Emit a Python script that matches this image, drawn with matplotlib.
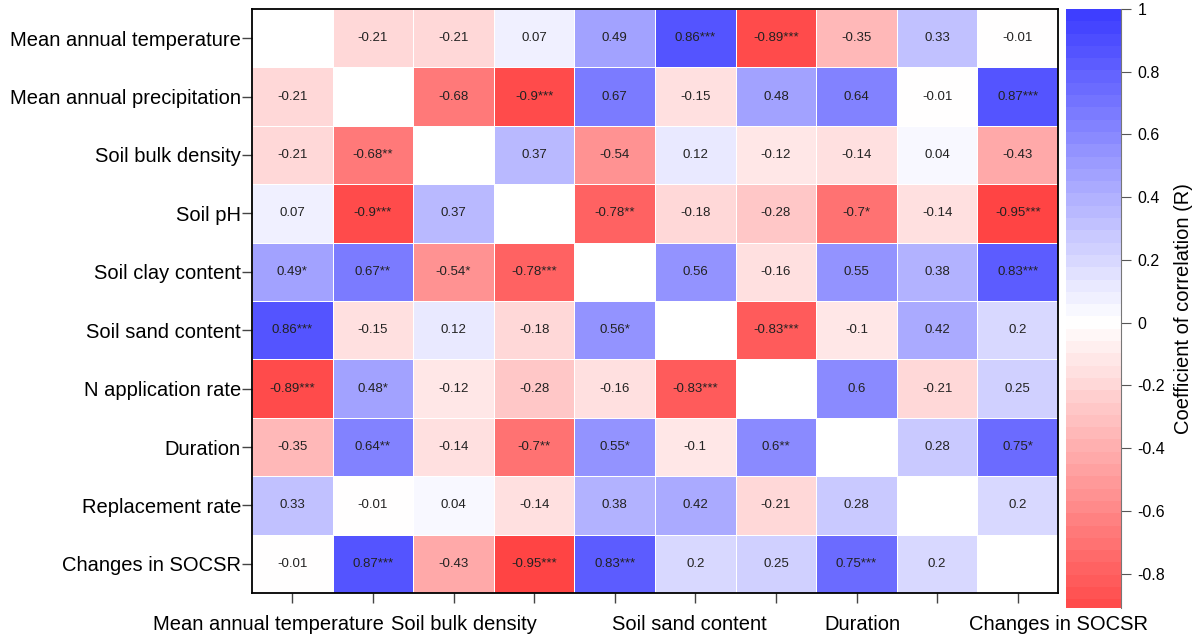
import numpy as np
import matplotlib
matplotlib.use("Agg")
from matplotlib import pyplot as plt
from matplotlib.colors import LinearSegmentedColormap, BoundaryNorm
import matplotlib.transforms as mtransforms

plt.rcParams['font.family'] = ['Liberation Sans', 'DejaVu Sans']

names = ["Mean annual temperature", "Mean annual precipitation", "Soil bulk density",
         "Soil pH", "Soil clay content", "Soil sand content", "N application rate",
         "Duration", "Replacement rate", "Changes in SOCSR"]

nan = np.nan
r = [
    [nan, -0.21, -0.21, 0.07, 0.49, 0.86, -0.89, -0.35, 0.33, -0.01],
    [-0.21, nan, -0.68, -0.9, 0.67, -0.15, 0.48, 0.64, -0.01, 0.87],
    [-0.21, -0.68, nan, 0.37, -0.54, 0.12, -0.12, -0.14, 0.04, -0.43],
    [0.07, -0.9, 0.37, nan, -0.78, -0.18, -0.28, -0.7, -0.14, -0.95],
    [0.49, 0.67, -0.54, -0.78, nan, 0.56, -0.16, 0.55, 0.38, 0.83],
    [0.86, -0.15, 0.12, -0.18, 0.56, nan, -0.83, -0.1, 0.42, 0.2],
    [-0.89, 0.48, -0.12, -0.28, -0.16, -0.83, nan, 0.6, -0.21, 0.25],
    [-0.35, 0.64, -0.14, -0.7, 0.55, -0.1, 0.6, nan, 0.28, 0.75],
    [0.33, -0.01, 0.04, -0.14, 0.38, 0.42, -0.21, 0.28, nan, 0.2],
    [-0.01, 0.87, -0.43, -0.95, 0.83, 0.2, 0.25, 0.75, 0.2, nan],
]
stars = [
    ["", "", "", "", "", "***", "***", "", "", ""],
    ["", "", "", "***", "", "", "", "", "", "***"],
    ["", "**", "", "", "", "", "", "", "", ""],
    ["", "***", "", "", "**", "", "", "*", "", "***"],
    ["*", "**", "*", "***", "", "", "", "", "", "***"],
    ["***", "", "", "", "*", "", "***", "", "", ""],
    ["***", "*", "", "", "", "***", "", "", "", ""],
    ["", "**", "", "**", "*", "", "**", "", "", "*"],
    ["", "", "", "", "", "", "", "", "", ""],
    ["", "***", "", "***", "***", "", "", "***", "", ""],
]
# x labels that R managed to draw, with their small shifts (px)
xlab_idx = [0, 2, 5, 7, 9]
xlab_shift = [-24, 10, -6, 6, 41]

r = np.array(r)
n = len(names)

cmap = LinearSegmentedColormap.from_list(
    "rwb", [(1, 60/255, 60/255), (1, 1, 1), (60/255, 60/255, 1)])
bounds = np.linspace(-1, 1, 52)
norm = BoundaryNorm(bounds, cmap.N)

fig = plt.figure(figsize=(12, 6.37), dpi=100)
ax = fig.add_axes([252/1200, 1 - 593/637, 806/1200, 584/637])
ax.pcolormesh(np.arange(n + 1), np.arange(n + 1), np.ma.masked_invalid(r),
              cmap=cmap, norm=norm, edgecolors='white', linewidth=0.6)
ax.set_xlim(0, n)
ax.set_ylim(n, 0)

for i in range(n):
    for j in range(n):
        if np.isnan(r[i, j]):
            continue
        txt = ('%.2f' % r[i, j]).rstrip('0').rstrip('.') + stars[i][j]
        ax.text(j + 0.5, i + 0.5, txt, ha='center', va='center', fontsize=9.5,
                color='#222222')

ax.set_yticks(np.arange(n) + 0.5)
ax.set_yticklabels(names, fontsize=14.5)
ax.set_xticks(np.arange(n) + 0.5)
xl = ['' for _ in names]
for k in xlab_idx:
    xl[k] = names[k]
ax.set_xticklabels(xl, fontsize=14.5)
ax.tick_params(axis='both', length=7, width=1, color='#444444', direction='out')
ax.tick_params(axis='x', pad=9)
ax.tick_params(axis='y', pad=1)
labs = ax.get_xticklabels()
for k, s in zip(xlab_idx, xlab_shift):
    labs[k].set_transform(labs[k].get_transform() +
                          mtransforms.ScaledTranslation(s / 100, 0, fig.dpi_scale_trans))
for sp in ax.spines.values():
    sp.set_linewidth(1.3)
    sp.set_color('black')

# colour bar drawn as a banded strip
cax = fig.add_axes([1066/1200, 1 - 608/637, 55/1200, 599/637])
mids = (bounds[:-1] + bounds[1:]) / 2
cax.pcolormesh([0, 1], bounds, mids.reshape(-1, 1), cmap=cmap, norm=norm)
cax.set_ylim(-0.91, 1)
cax.set_xlim(0, 1)
cax.set_xticks([])
cax.yaxis.tick_right()
cax.yaxis.set_label_position('right')
cax.set_yticks([-0.8, -0.6, -0.4, -0.2, 0, 0.2, 0.4, 0.6, 0.8, 1])
cax.set_yticklabels(['-0.8', '-0.6', '-0.4', '-0.2', '0', '0.2', '0.4', '0.6', '0.8', '1'],
                    fontsize=11.5)
cax.tick_params(axis='y', length=7, color='#555555', pad=5)
for k in ['top', 'bottom', 'left']:
    cax.spines[k].set_visible(False)
cax.spines['right'].set_color('#777777')
cax.set_ylabel('Coefficient of correlation (R)', fontsize=14.5, labelpad=6)

fig.savefig('out.png', dpi=100)
